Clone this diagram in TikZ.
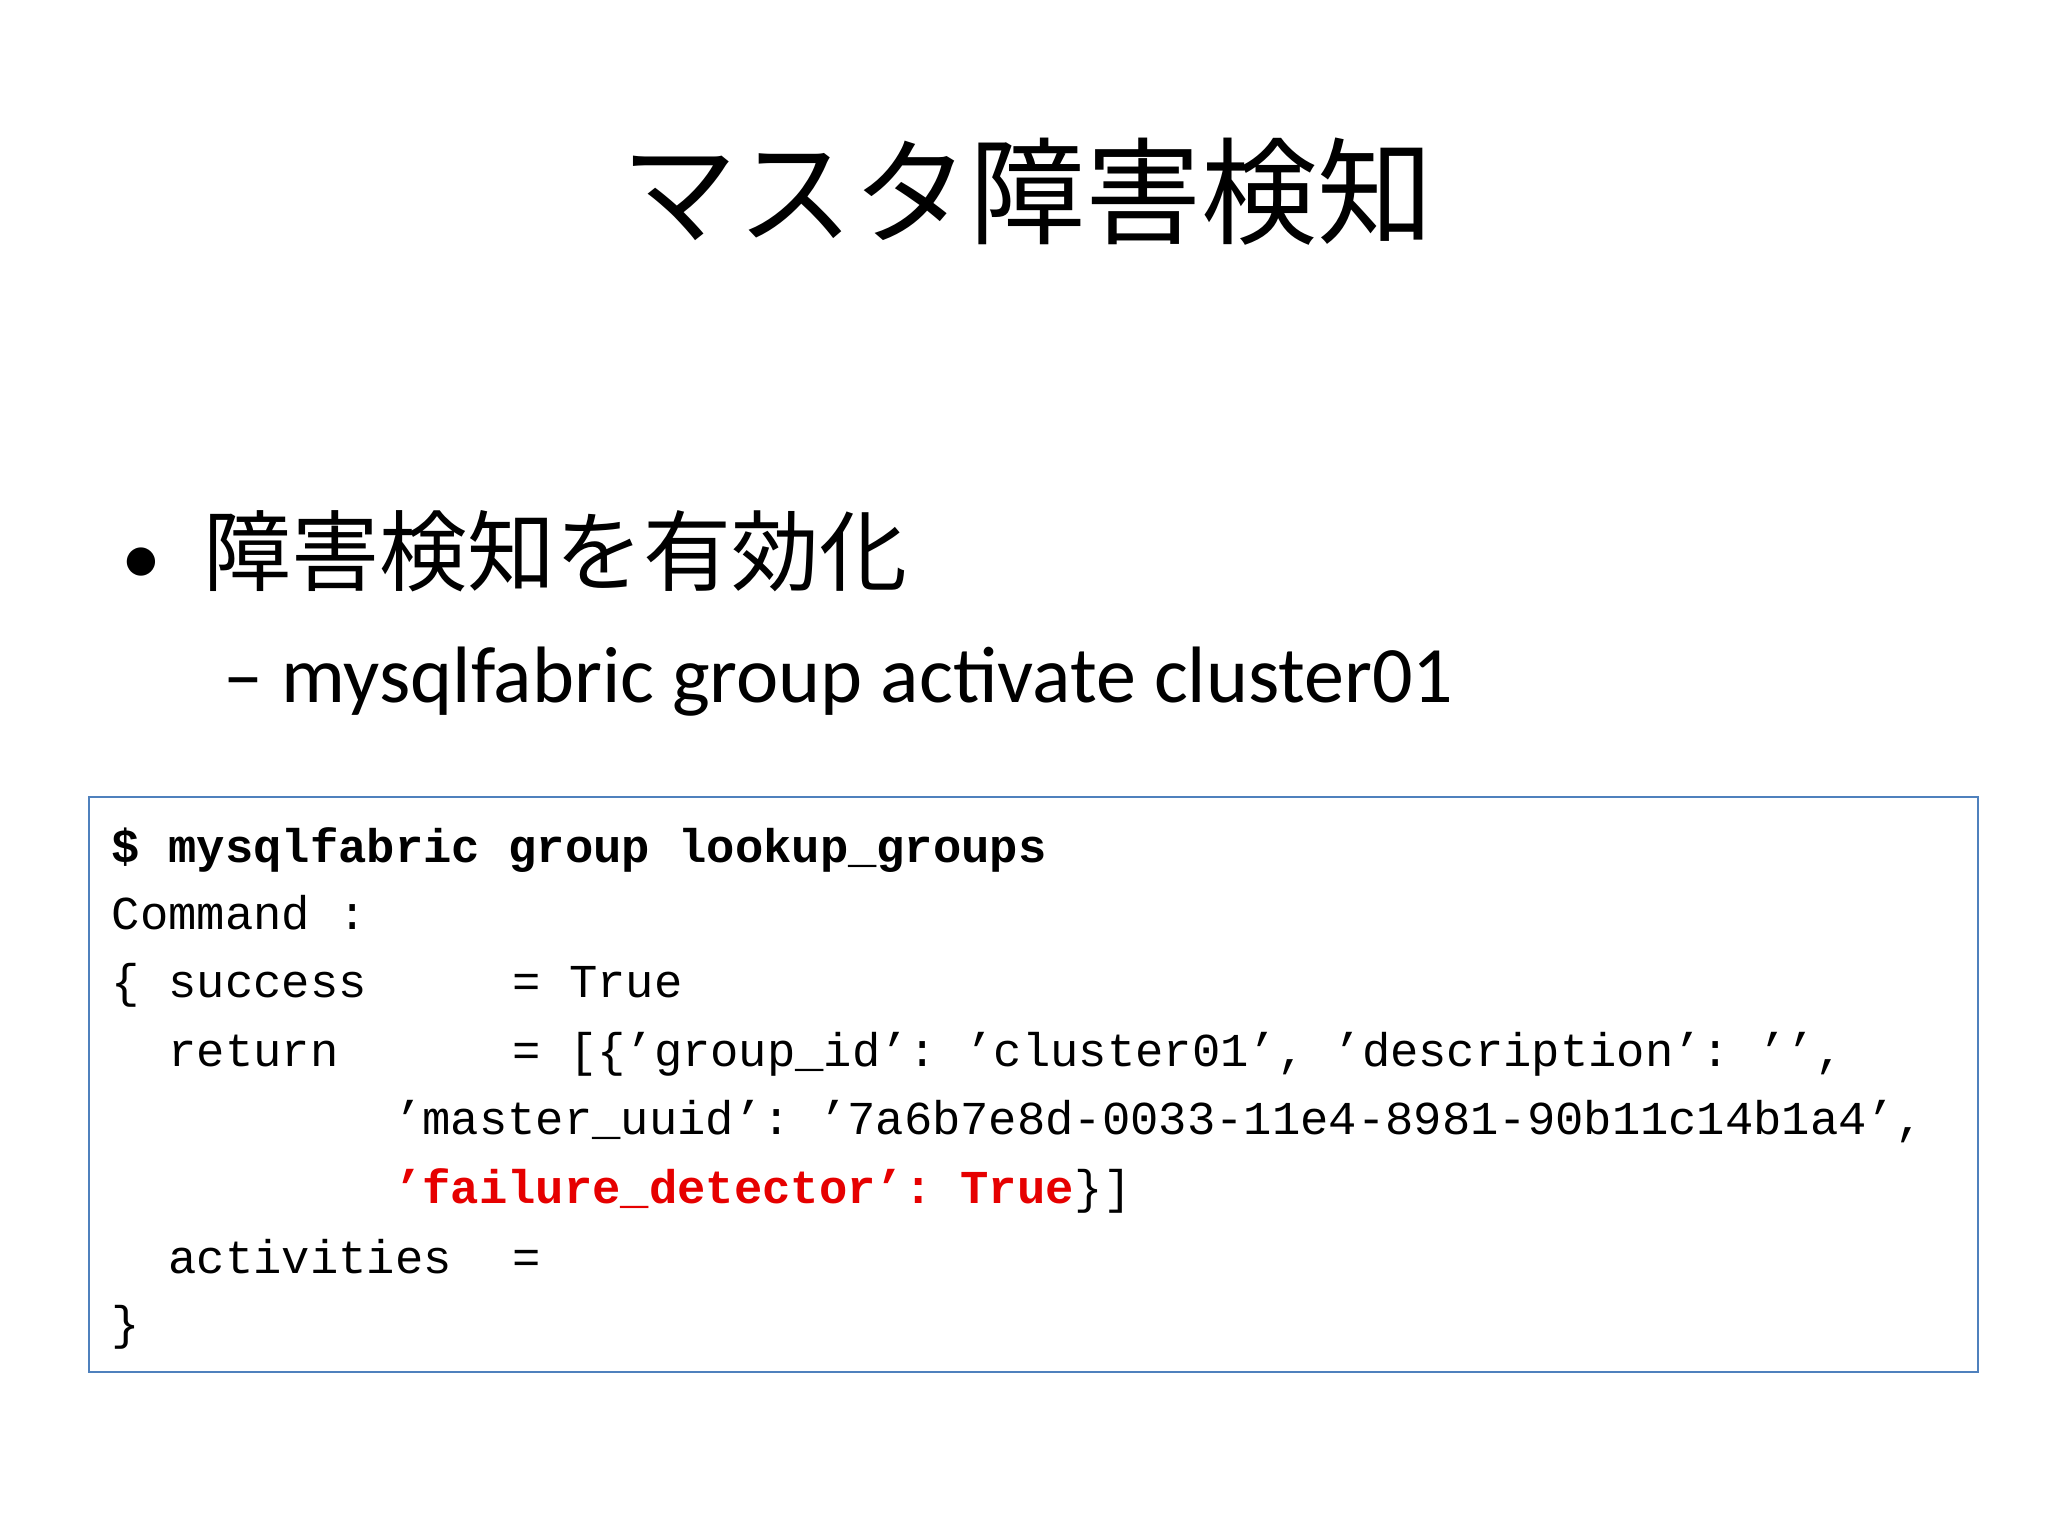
\documentclass[tikz,border=0pt]{standalone}
\usepackage{fontspec}
\setmainfont{Carlito}
\setmonofont{Liberation Mono}
\newfontfamily\cjk{Noto Sans CJK JP}
\begin{document}
\begin{tikzpicture}[x=0.6564pt,y=-0.6564pt,
  code/.style={anchor=base west,inner sep=0pt,font=\ttfamily\fontsize{23.6}{24}\selectfont},
  red/.style={text={rgb,255:red,230;green,0;blue,0}}]
\useasboundingbox[fill=white] (0,0) rectangle (1560,1170);
\node[inner sep=0pt,font=\cjk\fontsize{58}{58}\selectfont] (title) at (783,146) {マスタ障害検知};
\node[anchor=base west,inner sep=0pt,font=\fontsize{40}{40}\selectfont] (b) at (92,445) {•};
\node[anchor=base west,inner sep=0pt,font=\cjk\fontsize{44}{44}\selectfont] (bt) at (155,445) {障害検知を有効化};
\node[anchor=base west,inner sep=0pt,font=\fontsize{40}{40}\selectfont] (sub) at (170,535) {– mysqlfabric group activate cluster01};
\draw[draw={rgb,255:red,79;green,129;blue,189},line width=1pt] (68,607) rectangle (1507,1045);
\node[code,font=\ttfamily\bfseries\fontsize{23.6}{24}\selectfont] (l1) at (85,657) {\$ mysqlfabric group lookup\_groups};
\node[code] (l2) at (85,708) {Command :};
\node[code] (l3a) at (85,760) {\{ success};
\node[code] (l3b) at (390,760) {= True};
\node[code] (l4a) at (128,812) {return};
\node[code] (l4b) at (390,812) {= [\{’group\_id’: ’cluster01’, ’description’: ’’,};
\node[code] (l5) at (300,864) {’master\_uuid’: ’7a6b7e8d-0033-11e4-8981-90b11c14b1a4’,};
\node[code,red,font=\ttfamily\bfseries\fontsize{23.6}{24}\selectfont] (l6) at (300,917) {’failure\_detector’: True};
\node[code,anchor=base west] (l6b) at (l6.base east) {\}]};
\node[code] (l7a) at (128,970) {activities};
\node[code] (l7b) at (390,970) {=};
\node[code] (l8) at (85,1020) {\}};
\end{tikzpicture}
\end{document}
